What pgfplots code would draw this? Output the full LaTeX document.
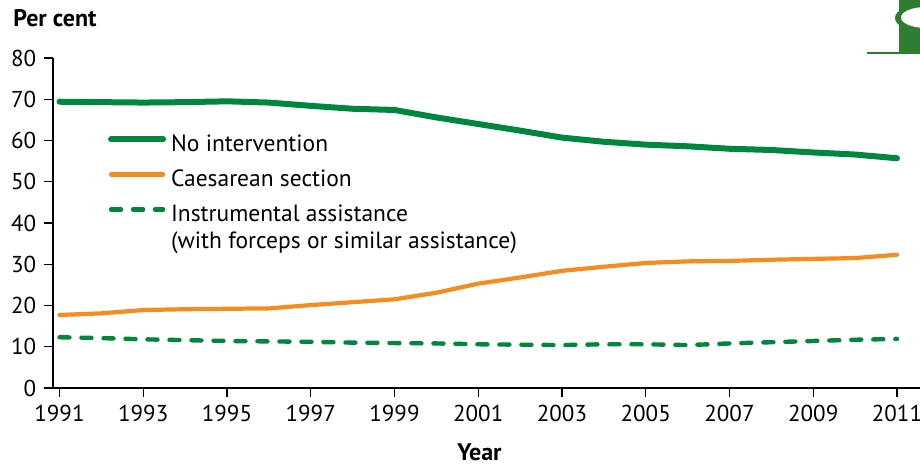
\documentclass[border=0pt]{standalone}
\usepackage{fontspec}
\setmainfont{PT Sans}
\usepackage{pgfplots}
\usepackage{pgfplotstable}
\pgfplotsset{compat=1.18}

\definecolor{nogreen}{RGB}{0,135,62}
\definecolor{csorange}{RGB}{246,139,31}
\definecolor{logogreen}{RGB}{46,125,50}

% Share of births by method of delivery, per cent
\pgfplotstableread{
year  noint  caes  instr
1991  69.4  17.7  12.3
1992  69.3  18.1  12.1
1993  69.2  18.9  11.8
1994  69.3  19.1  11.6
1995  69.5  19.2  11.4
1996  69.2  19.3  11.3
1997  68.4  20.1  11.2
1998  67.7  20.8  11.0
1999  67.4  21.5  10.9
2000  65.6  23.1  10.8
2001  64.0  25.3  10.6
2002  62.4  26.8  10.5
2003  60.7  28.4  10.4
2004  59.7  29.4  10.6
2005  59.0  30.3  10.6
2006  58.6  30.7  10.4
2007  58.0  30.8  10.8
2008  57.7  31.1  11.1
2009  57.1  31.3  11.4
2010  56.6  31.5  11.7
2011  55.7  32.3  11.9
}\births

\begin{document}
\fontsize{11}{13.2}\selectfont
\begin{tikzpicture}
\useasboundingbox (0pt,0pt) rectangle (460pt,232.5pt);

% corner emblem and titles
\begin{scope}[x=0.5pt,y=0.5pt]
\fill[logogreen] (899,411) rectangle (921,466);
\fill[logogreen] (925,447) ellipse [x radius=30, y radius=14];
\fill[white] (926,447.5) ellipse [x radius=25, y radius=10.5];
\draw[logogreen, line width=1pt] (867,411.5) -- (921,411.5);
\node[anchor=base west, inner sep=0pt, font=\fontsize{12}{14}\selectfont\bfseries] at (13,438) {Per cent};
\node[anchor=base, inner sep=0pt, font=\fontsize{12}{14}\selectfont\bfseries] at (479.5,4) {Year};
\end{scope}

\begin{axis}[
  at={(26.5pt,38.5pt)}, anchor=south west, scale only axis,
  width=433.5pt, height=165pt,
  xmin=1990.845, xmax=2011.55, ymin=0, ymax=80,
  axis lines=left,
  axis line style={-, line width=0.65pt},
  xtick={1991,1993,...,2011}, ytick={0,10,...,80},
  tick align=outside, major tick length=4.5pt,
  tick style={black, line width=0.65pt},
  /pgf/number format/assume math mode=true,
  /pgf/number format/1000 sep={},
  ticklabel style={font=\fontsize{11.5}{13}\selectfont},
  clip=false,
  legend style={at={(axis cs:1992.16,61.1)}, anchor=north west,
    draw=none, fill=none, inner sep=0pt, outer sep=0pt, row sep=7pt,
    font=\fontsize{11.75}{13.2}\selectfont,
    nodes={inner sep=0pt, text height=8pt, text depth=2.5pt}},
  legend cell align=left,
  legend image code/.code={\draw[#1] (0pt,3.5pt) -- (26pt,3.5pt); \path (28.5pt,3.5pt);},
]
\addplot[nogreen, line width=3pt, line cap=round, line join=round]
  table[x=year, y=noint] {\births};
\addlegendentry{No intervention}
\addplot[csorange, line width=2.1pt, line cap=round, line join=round]
  table[x=year, y=caes] {\births};
\addlegendentry{Caesarean section}
\addplot[nogreen, line width=2.2pt, line cap=round, line join=round,
  dash pattern=on 5pt off 6pt]
  table[x=year, y=instr] {\births};
\addlegendentry{\begin{tabular}[t]{@{}l@{}}Instrumental assistance\\(with forceps or similar assistance)\end{tabular}}
\end{axis}
\end{tikzpicture}
\end{document}
